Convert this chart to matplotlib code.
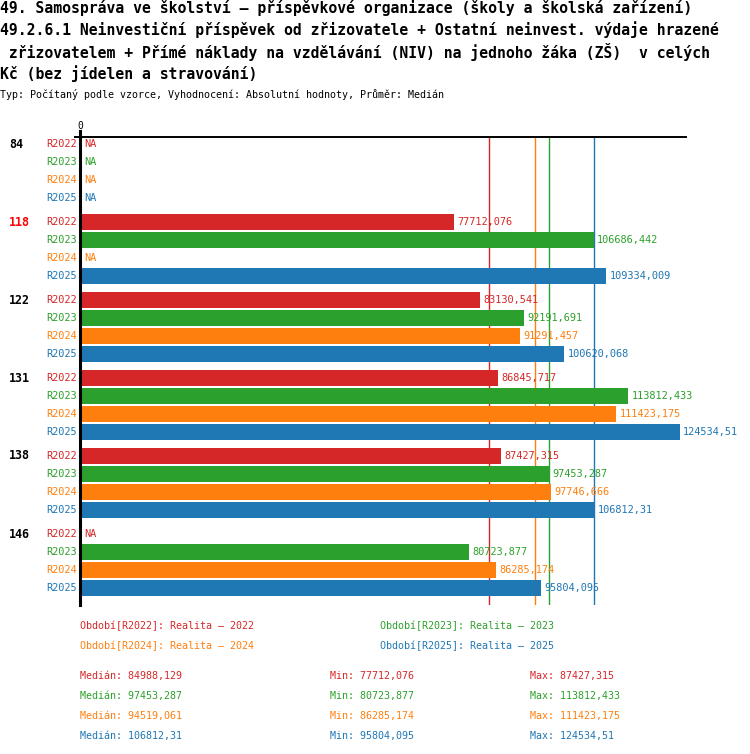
import numpy as np
import matplotlib
matplotlib.use("Agg")
import matplotlib.pyplot as plt

groups = ['84', '118', '122', '131', '138', '146']
highlight = '118'
periods = ['R2022', 'R2023', 'R2024', 'R2025']
nan = np.nan
r2022 = [nan, 77712.076, 83130.541, 86845.717, 87427.315, nan]
r2023 = [nan, 106686.442, 92191.691, 113812.433, 97453.287, 80723.877]
r2024 = [nan, nan, 91291.457, 111423.175, 97746.666, 86285.174]
r2025 = [nan, 109334.009, 100620.068, 124534.51, 106812.31, 95804.095]
series = [r2022, r2023, r2024, r2025]
colors = ['#d62728', '#2ca02c', '#ff7f0e', '#1f77b4']
legend_names = ['Realita – 2022', 'Realita – 2023', 'Realita – 2024', 'Realita – 2025']

title_lines = [
    "49. Samospráva ve školství – příspěvkové organizace (školy a školská zařízení)",
    "49.2.6.1 Neinvestiční příspěvek od zřizovatele + Ostatní neinvest. výdaje hrazené",
    " zřizovatelem + Přímé náklady na vzdělávání (NIV) na jednoho žáka (ZŠ)  v celých",
    "Kč (bez jídelen a stravování)",
]
subtitle = "Typ: Počítaný podle vzorce, Vyhodnocení: Absolutní hodnoty, Průměr: Medián"

W, H = 750, 754
fig = plt.figure(figsize=(W / 100, H / 100), dpi=100)
MONO = 'DejaVu Sans Mono'


def fx(px):
    return px / W


def fy(py):
    return 1 - py / H


def fmt(v):
    s = f"{v:.3f}".rstrip('0').rstrip('.')
    return s.replace('.', ',')


# titles
for i, t in enumerate(title_lines):
    fig.text(fx(0), fy(8 + 22 * i), t, fontsize=10.6, fontweight='bold',
             family=MONO, va='center', ha='left')
fig.text(fx(0), fy(95), subtitle, fontsize=7.2, family=MONO, va='center', ha='left')

# axes
ax_left, ax_right, ax_top, ax_bot = 80.4, 686, 137, 605
ax = fig.add_axes([fx(ax_left), fy(ax_bot), fx(ax_right - ax_left), (ax_bot - ax_top) / H])
row_px = 18.0
group_step = 78.0 / row_px
first_center = 144.0
xmax = (ax_right - ax_left) / 0.004811
ax.set_xlim(0, xmax)
ax.set_ylim((ax_bot - first_center) / row_px, (ax_top - first_center) / row_px)
for s in ax.spines.values():
    s.set_visible(False)
ax.set_xticks([])
ax.set_yticks([])

# top line
ax.plot([-5.4 / (ax_right - ax_left), 1], [1, 1], transform=ax.transAxes,
        color='black', lw=1.4, clip_on=False)
ax.text(0, 1, '0', transform=ax.transAxes, ha='center', va='bottom', fontsize=7,
        family=MONO).set_position((0, 1.012))

# median lines
for ser, c in zip(series, colors):
    med = np.nanmedian(ser)
    ax.axvline(med, color=c, lw=1.0, zorder=1)

# bars
for gi, g in enumerate(groups):
    for k, (ser, c, p) in enumerate(zip(series, colors, periods)):
        y = gi * group_step + k
        v = ser[gi]
        ax.annotate(p, xy=(0, y), xytext=(-2.5, 0), textcoords='offset points',
                    ha='right', va='center', fontsize=7.4, family=MONO, color=c,
                    annotation_clip=False)
        if np.isnan(v):
            ax.annotate('NA', xy=(0, y), xytext=(2.5, 0), textcoords='offset points',
                        ha='left', va='center', fontsize=7.4, family=MONO, color=c,
                        annotation_clip=False)
        else:
            ax.barh(y, v, height=16 / row_px, color=c, zorder=2)
            ax.annotate(fmt(v), xy=(v, y), xytext=(2.5, 0), textcoords='offset points',
                        ha='left', va='center', fontsize=7.4, family=MONO, color=c,
                        annotation_clip=False, zorder=3)
    gy = gi * group_step
    fig.text(fx(9), fy(first_center + gi * 78), g, fontsize=8.4, fontweight='bold',
             family=MONO, va='center', ha='left',
             color='#ff0000' if g == highlight else 'black')

# zero line
ax.plot([0, 0], [0, 1 + 6 / (ax_bot - ax_top)], transform=ax.get_xaxis_transform(),
        color='black', lw=2.2, clip_on=False, zorder=4)

# legend
leg_pos = [(80, 626), (380, 626), (80, 646), (380, 646)]
for (px, py), p, n, c in zip(leg_pos, periods, legend_names, colors):
    fig.text(fx(px), fy(py), f"Období[{p}]: {n}", fontsize=7.2, family=MONO,
             color=c, va='center', ha='left')

# stats
for i, (ser, c) in enumerate(zip(series, colors)):
    py = 676 + 20 * i
    fig.text(fx(80), fy(py), f"Medián: {fmt(np.nanmedian(ser))}", fontsize=7.2,
             family=MONO, color=c, va='center', ha='left')
    fig.text(fx(330), fy(py), f"Min: {fmt(np.nanmin(ser))}", fontsize=7.2,
             family=MONO, color=c, va='center', ha='left')
    fig.text(fx(530), fy(py), f"Max: {fmt(np.nanmax(ser))}", fontsize=7.2,
             family=MONO, color=c, va='center', ha='left')

fig.savefig('out.png', dpi=100)
